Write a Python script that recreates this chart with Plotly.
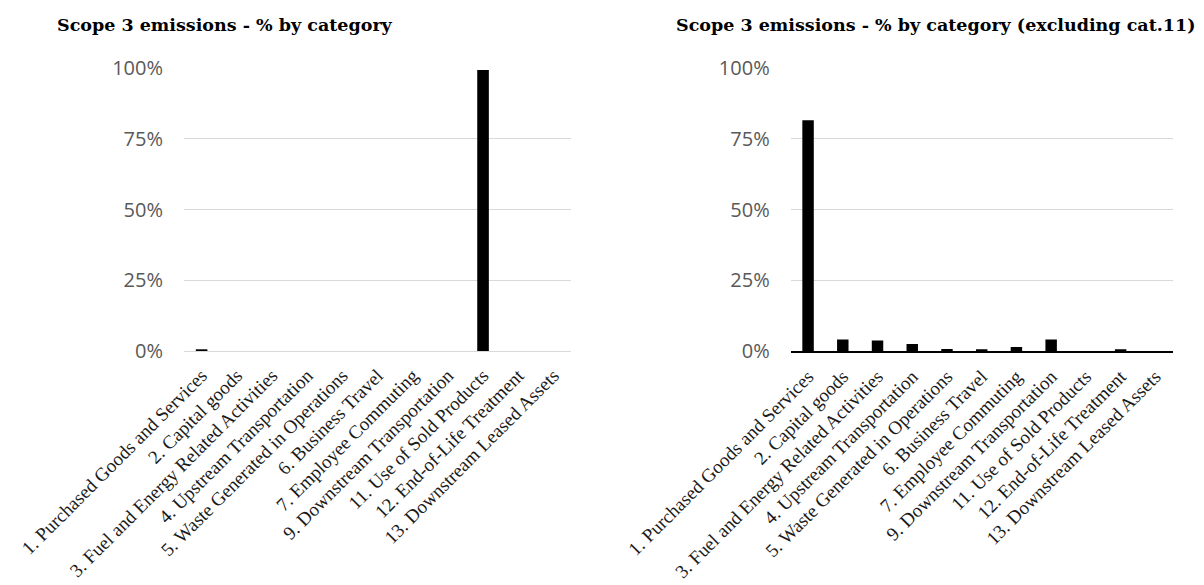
import plotly.graph_objects as go

categories = [
    "1. Purchased Goods and Services",
    "2. Capital goods",
    "3. Fuel and Energy Related Activities",
    "4. Upstream Transportation",
    "5. Waste Generated in Operations",
    "6. Business Travel",
    "7. Employee Commuting",
    "9. Downstream Transportation",
    "11. Use of Sold Products",
    "12. End-of-Life Treatment",
    "13. Downstream Leased Assets",
]
share_all = [0.005, 0.0, 0.0, 0.0, 0.0, 0.0, 0.0, 0.0, 0.994, 0.0, 0.0]
share_excl11 = [0.816, 0.041, 0.037, 0.025, 0.007, 0.0035, 0.014, 0.041, 0.0, 0.003, 0.0]
title_all = "Scope 3 emissions - % by category"
title_excl = "Scope 3 emissions - % by category (excluding cat.11)"
y_ticks = [0, 0.25, 0.5, 0.75, 1.0]

W, H = 1204, 585
fig = go.Figure()
fig.add_trace(go.Bar(x=categories, y=share_all, marker=dict(color="black", line=dict(width=0)),
                     xaxis="x", yaxis="y", showlegend=False))
fig.add_trace(go.Bar(x=categories, y=share_excl11, marker=dict(color="black", line=dict(width=0)),
                     xaxis="x2", yaxis="y2", showlegend=False))

ydom = [1 - 351 / H, 1 - 68.3 / H]
xfont = dict(family="Liberation Serif", size=19, color="#1a1a1a")
yfont = dict(family="Open Sans", size=20, color="#595959")

common_x = dict(type="category", tickangle=-45, tickfont=xfont, showgrid=False,
                ticks="", showline=True, fixedrange=True, automargin=False,
                ticklabelstandoff=5)
common_y = dict(range=[0, 1], tickvals=y_ticks, tickformat=".0%", tickfont=yfont,
                showgrid=True, gridcolor="#d9d9d9", gridwidth=1, zeroline=False,
                showline=False, ticks="", ticklabelstandoff=20, automargin=False)

fig.update_layout(
    width=W, height=H,
    margin=dict(l=0, r=0, t=0, b=0, autoexpand=False),
    paper_bgcolor="white", plot_bgcolor="white",
    bargap=0.67,
    xaxis=dict(domain=[184 / W, 571 / W], anchor="y", linecolor="#d9d9d9", linewidth=1, **common_x),
    yaxis=dict(domain=ydom, anchor="x", **common_y),
    xaxis2=dict(domain=[790.7 / W, 1172.7 / W], anchor="y2", linecolor="black", linewidth=2, **common_x),
    yaxis2=dict(domain=ydom, anchor="x2", **common_y),
    annotations=[
        dict(text="<b>" + title_all + "</b>", x=55 / W, y=1 - 25 / H, xref="paper", yref="paper",
             xanchor="left", yanchor="middle", showarrow=False,
             font=dict(family="DejaVu Serif", size=17.5, color="black")),
        dict(text="<b>" + title_excl + "</b>", x=1197 / W, y=1 - 25 / H, xref="paper", yref="paper",
             xanchor="right", yanchor="middle", showarrow=False,
             font=dict(family="DejaVu Serif", size=17.5, color="black")),
    ],
)

fig.write_html("out.html")
